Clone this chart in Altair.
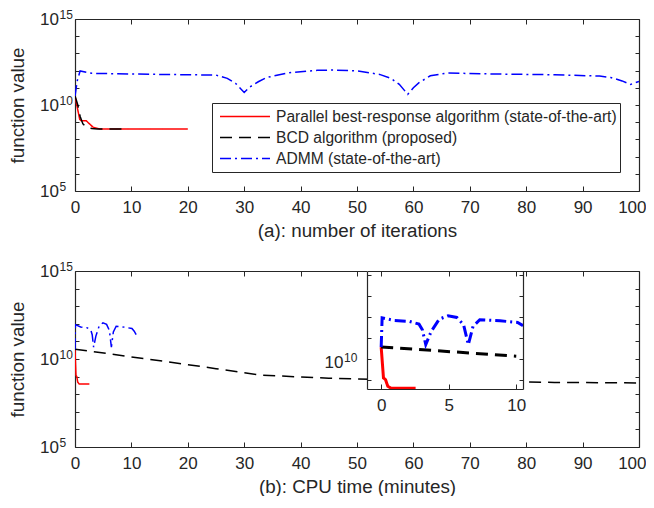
import altair as alt
import pandas as pd

FONT = "Liberation Sans"
TXT = "#262626"
AX = "#262626"

SERIES = ["Parallel best-response algorithm (state-of-the-art)",
          "BCD algorithm (proposed)",
          "ADMM (state-of-the-art)"]
COLORS = ["#ff0000", "#000000", "#0000ff"]
DASHES = [[1, 0], [12, 7], [11, 4, 2, 4]]

# ---- panel (a): number of iterations (y = log10 of function value)
pbr_iter_x = [0, 0.83, 1.1, 2.0, 3.2, 4.4, 6, 10, 15, 20]
pbr_iter_y = [10.52, 9.17, 9.08, 9.08, 8.71, 8.61, 8.61, 8.61, 8.61, 8.61]
bcd_iter_x = [0, 0.5, 0.9, 1.4, 2.0, 3.0, 4.0, 6.0, 9.0]
bcd_iter_y = [10.52, 10.0, 9.35, 8.9, 8.72, 8.63, 8.61, 8.61, 8.61]
admm_iter_x = [0, 0.4, 0.9, 3, 10, 20, 25, 27, 28.5, 30, 31, 32.5, 34, 38, 43, 46,
               50, 54, 56, 57.5, 59, 60, 61, 63, 66, 75, 85, 93, 95, 97, 98.5, 100]
admm_iter_y = [10.52, 11.4, 11.98, 11.84, 11.8, 11.76, 11.74, 11.55, 11.25, 10.73,
               11.05, 11.35, 11.6, 11.88, 12.02, 12.03, 11.98, 11.78, 11.55, 11.2,
               10.62, 11.0, 11.3, 11.7, 11.86, 11.8, 11.76, 11.68, 11.6, 11.4, 11.2, 11.37]

# ---- panel (b): CPU time in minutes
pbr_cpu_x = [0, 0.17, 0.32, 0.49, 0.74, 2.55]
pbr_cpu_y = [10.55, 9.08, 9.0, 8.68, 8.58, 8.58]
bcd_cpu_x = [0, 10, 20, 25, 33, 45, 55, 70, 85, 100]
bcd_cpu_y = [10.56, 10.12, 9.68, 9.45, 9.08, 8.91, 8.83, 8.74, 8.67, 8.64]
admm_cpu_x = [0, 0.07, 1, 2.1, 2.8, 3.05, 3.3, 3.7, 4.3, 4.95, 5.6, 6.1, 6.45, 6.8,
              7.3, 8.8, 10.1, 10.5, 11.0]
admm_cpu_y = [10.56, 11.95, 11.82, 11.78, 11.65, 11.38, 10.67, 11.3, 11.89, 12.05,
              11.97, 11.62, 10.67, 11.54, 11.86, 11.81, 11.73, 11.58, 11.3]

X_TICKS = list(range(0, 101, 10))
Y_TICKS = list(range(5, 16))
Y_LABELS = [5, 10, 15]
INSET_X = [-1.05, 10.5]
INSET_Y = [8.55, 14.19]
INSET_X_TICKS = [0, 5, 10]
INSET_Y_TICKS = [9, 10, 11, 12, 13, 14]
INSET_Y_LABELS = [10]

W = 564
HA = 172
HB = 176
INSET_PX_X = [292, 448]
INSET_PX_Y = [118, 0]

TICK_FS = 17
SUP_FS = 12
TITLE_FS = 18.8
BASE_PAD = 16.5
SUP_PAD = 16
INSET_BASE_PAD = 24
INSET_SUP_PAD = 23.5


def frame(xs, ys, names):
    rows = []
    for xv, yv, n in zip(xs, ys, names):
        for a, b in zip(xv, yv):
            rows.append({"x": a, "y": b, "series": n})
    return pd.DataFrame(rows)


df_a = frame([pbr_iter_x, bcd_iter_x, admm_iter_x], [pbr_iter_y, bcd_iter_y, admm_iter_y], SERIES)
df_b = frame([pbr_cpu_x, bcd_cpu_x, admm_cpu_x], [pbr_cpu_y, bcd_cpu_y, admm_cpu_y], SERIES)

XS = alt.Scale(domain=[0, 100], nice=False, zero=False)
YS = alt.Scale(domain=[5, 15], nice=False, zero=False)
XI = alt.Scale(domain=INSET_X, range=INSET_PX_X, nice=False, zero=False)
YI = alt.Scale(domain=INSET_Y, range=INSET_PX_Y, nice=False, zero=False)

LEG = alt.Legend(title=None, orient="none", legendX=137, legendY=84,
                 symbolType="stroke", symbolSize=2500, symbolStrokeWidth=1.5,
                 clipHeight=21, rowPadding=0, padding=3, labelFontSize=15.6,
                 labelFont=FONT, labelColor=TXT, strokeColor=AX, fillColor="white",
                 labelLimit=600, labelOffset=5, symbolOffset=4)

color_enc = alt.Color("series:N", scale=alt.Scale(domain=SERIES, range=COLORS))
dash_enc = alt.StrokeDash("series:N", scale=alt.Scale(domain=SERIES, range=DASHES))

inset_box = pd.DataFrame({"x": [INSET_X[0]], "x2": [INSET_X[1]],
                          "y": [INSET_Y[0]], "y2": [INSET_Y[1]]})
main_anchor = pd.DataFrame({"x": [0], "y": [5]})

LAST_ALIGN = {"condition": {"test": "datum.value == 100", "value": "right"}, "value": "center"}
LAST_OFFSET = {"condition": {"test": "datum.value == 100", "value": 7}, "value": 0}


def main_lines(df, title, legend):
    return alt.Chart(df).mark_line(strokeWidth=1.5, clip=True).encode(
        x=alt.X("x:Q", scale=XS, axis=alt.Axis(
            title=title, values=X_TICKS, ticks=False, labelPadding=8,
            titlePadding=6, domain=True, format="d", labelFlush=False,
            labelAlign=LAST_ALIGN, labelOffset=LAST_OFFSET)),
        y=alt.Y("y:Q", scale=YS, axis=alt.Axis(
            title="function value", values=Y_LABELS, labelExpr="'10'",
            ticks=False, labelPadding=BASE_PAD, minExtent=42, titlePadding=6,
            domain=True)),
        color=color_enc.legend(LEG if legend else None),
        strokeDash=dash_enc.legend(LEG if legend else None),
    )


def sup_layer(df, xs, ys, values, left_px, pad, dy, zi):
    # exponent part of the 10^n tick labels, raised and smaller
    return alt.Chart(df).mark_point(opacity=0, clip=True).encode(
        x=alt.X("x:Q", scale=xs, axis=None),
        y=alt.Y("y:Q", scale=ys, axis=alt.Axis(
            orient="left", offset=-left_px, values=values, format="d",
            labelFontSize=SUP_FS, labelAlign="left", labelPadding=pad,
            labelOffset=dy, ticks=False, domain=False, title=None, zindex=zi)),
    )


def tick_layers(df, xs, ys, xvals, yvals, bottom_px, left_px, top_px, right_px, h, zi):
    t1 = alt.Chart(df).mark_point(opacity=0, clip=True).encode(
        x=alt.X("x:Q", scale=xs, axis=alt.Axis(
            orient="top", offset=-bottom_px, values=xvals, labels=False,
            domain=False, tickSize=5, title=None, zindex=zi)),
        y=alt.Y("y:Q", scale=ys, axis=alt.Axis(
            orient="right", offset=left_px - W, values=yvals, labels=False,
            domain=False, tickSize=4, title=None, zindex=zi)),
    )
    t2 = alt.Chart(df).mark_point(opacity=0, clip=True).encode(
        x=alt.X("x:Q", scale=xs, axis=alt.Axis(
            orient="bottom", offset=top_px - h, values=xvals, labels=False,
            domain=True, tickSize=5, title=None, zindex=zi)),
        y=alt.Y("y:Q", scale=ys, axis=alt.Axis(
            orient="left", offset=-right_px, values=yvals, labels=False,
            domain=True, tickSize=4, title=None, zindex=zi)),
    )
    return [t1, t2]


top = alt.layer(
    main_lines(df_a, "(a): number of iterations", True),
    sup_layer(main_anchor, XS, YS, Y_LABELS, 0, SUP_PAD, -5, 0),
    *tick_layers(main_anchor, XS, YS, X_TICKS, Y_TICKS, HA, 0, 0, W, HA, 0),
).resolve_axis(x="independent", y="independent").properties(width=W, height=HA)

rect = alt.Chart(inset_box).mark_rect(fill="white", stroke=None).encode(
    x=alt.X("x:Q", scale=XI, axis=None), x2="x2:Q",
    y=alt.Y("y:Q", scale=YI, axis=None), y2="y2:Q",
)

inset_lines = alt.Chart(df_b).transform_filter(
    f"datum.x <= {INSET_X[1]}"
).mark_line(strokeWidth=3).encode(
    x=alt.X("x:Q", scale=XI, axis=alt.Axis(
        orient="bottom", offset=INSET_PX_Y[0] - HB, values=INSET_X_TICKS, ticks=False,
        labelPadding=8, title=None, domain=True, zindex=1, format="d",
        labelFlush=False)),
    y=alt.Y("y:Q", scale=YI, axis=alt.Axis(
        orient="left", offset=-INSET_PX_X[0], values=INSET_Y_LABELS, labelExpr="'10'",
        ticks=False, labelPadding=INSET_BASE_PAD, labelOffset=4, title=None,
        domain=True, zindex=1)),
    color=color_enc.legend(None),
    strokeDash=dash_enc.legend(None),
)

bottom = alt.layer(
    main_lines(df_b, "(b): CPU time (minutes)", False),
    sup_layer(main_anchor, XS, YS, Y_LABELS, 0, SUP_PAD, -5, 0),
    *tick_layers(main_anchor, XS, YS, X_TICKS, Y_TICKS, HB, 0, 0, W, HB, 0),
    rect,
    inset_lines,
    sup_layer(inset_box, XI, YI, INSET_Y_LABELS, INSET_PX_X[0], INSET_SUP_PAD, -1, 1),
    *tick_layers(inset_box, XI, YI, INSET_X_TICKS, INSET_Y_TICKS, INSET_PX_Y[0],
                 INSET_PX_X[0], INSET_PX_Y[1], INSET_PX_X[1], HB, 1),
).resolve_scale(x="independent", y="independent").resolve_axis(
    x="independent", y="independent").properties(width=W, height=HB)

chart = alt.vconcat(top, bottom, spacing=20).resolve_scale(
    color="independent", strokeDash="independent"
).configure(
    padding={"left": 0, "top": 0, "right": 0, "bottom": 0}, font=FONT
).configure_view(stroke=None).configure_axis(
    labelFont=FONT, titleFont=FONT, labelColor=TXT, titleColor=TXT,
    domainColor=AX, tickColor=AX, grid=False, labelFontSize=TICK_FS,
    titleFontSize=TITLE_FS, titleFontWeight="normal", domainWidth=1.2, tickWidth=1
)

chart.save("out.html", embed_options={"renderer": "svg", "actions": False})
